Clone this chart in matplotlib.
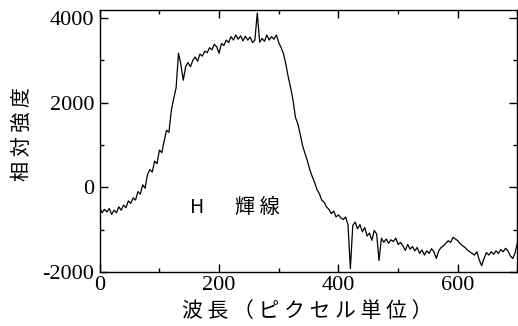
import matplotlib
matplotlib.use("Agg")
import matplotlib.pyplot as plt
from matplotlib.ticker import MultipleLocator
import numpy as np

plt.rcParams["axes.unicode_minus"] = False

# pixel index of the spectrum (every 4th pixel)
pixel = np.arange(0, 701, 4)

# relative intensity
intensity = [
    -480, -600, -520, -580, -500, -640, -540, -600, -460, -540,
    -420, -480, -320, -380, -250, -300, -100, -160, 60, -20,
    300, 420, 360, 620, 560, 880, 820, 1100, 1350, 1300,
    1820, 2100, 2350, 3170, 2900, 2530, 2850, 2950, 2850, 3000,
    3080, 2980, 3150, 3100, 3220, 3180, 3300, 3250, 3380, 3320,
    3170, 3400, 3350, 3480, 3420, 3560, 3480, 3600, 3500, 3580,
    3460, 3570, 3480, 3550, 3420, 3480, 4120, 3430, 3520, 3450,
    3600, 3480, 3560, 3500, 3600, 3420, 3300, 3150, 2900, 2600,
    2350, 2050, 1650, 1500, 1250, 980, 800, 620, 420, 260,
    120, -50, -150, -300, -350, -460, -520, -620, -560, -700,
    -650, -720, -760, -700, -880, -1920, -900, -820, -980, -880,
    -1050, -950, -1150, -1080, -1250, -1020, -1100, -1730, -1200, -1300,
    -1220, -1320, -1240, -1280, -1200, -1350, -1300, -1380, -1490, -1350,
    -1460, -1400, -1500, -1420, -1560, -1480, -1600, -1500, -1560, -1450,
    -1520, -1680, -1500, -1420, -1380, -1320, -1260, -1300, -1180, -1220,
    -1260, -1330, -1380, -1420, -1480, -1520, -1560, -1600, -1520, -1720,
    -1850, -1680, -1540, -1600, -1520, -1580, -1500, -1560, -1470, -1520,
    -1440, -1500, -1620, -1680, -1550, -1300,
]

x_label = "波 長 （ ピ ク セ ル 単 位 ）"
y_label = "相 対 強 度"
line_label = "H"
line_name = "輝 線"

cjk = ["Noto Sans CJK JP", "DejaVu Sans"]

fig = plt.figure(figsize=(5.18, 3.26), dpi=100)
ax = fig.add_axes([0.1925, 0.1656, 0.8065, 0.8037])

ax.plot(pixel, intensity, color="black", linewidth=0.9)

ax.set_xlim(0, 700)
ax.set_ylim(-2000, 4190)
ax.xaxis.set_major_locator(MultipleLocator(200))
ax.xaxis.set_minor_locator(MultipleLocator(100))
ax.yaxis.set_major_locator(MultipleLocator(2000))
ax.yaxis.set_minor_locator(MultipleLocator(1000))

ax.tick_params(which="both", direction="in", top=True, right=True, width=1)
ax.tick_params(which="major", length=6)
ax.tick_params(which="minor", length=3)
ax.tick_params(axis="x", which="major", pad=3)
ax.tick_params(axis="y", which="major", pad=4)
for lab in ax.get_xticklabels() + ax.get_yticklabels():
    lab.set_family("Liberation Serif")
    lab.set_fontsize(16)
for sp in ax.spines.values():
    sp.set_linewidth(1.0)

ax.text(151, -473, line_label, family=cjk, fontsize=14, va="center", ha="left")
ax.text(226, -473, line_name, family=cjk, fontsize=14.5, va="center", ha="left")

fig.text(307 / 518, 1 - 311 / 326, x_label, family=cjk, fontsize=15,
         ha="center", va="center")
fig.text(22 / 518, 1 - 134 / 326, y_label, family=cjk, fontsize=14.5,
         ha="center", va="center", rotation=90)

fig.savefig("out.png", dpi=100)
